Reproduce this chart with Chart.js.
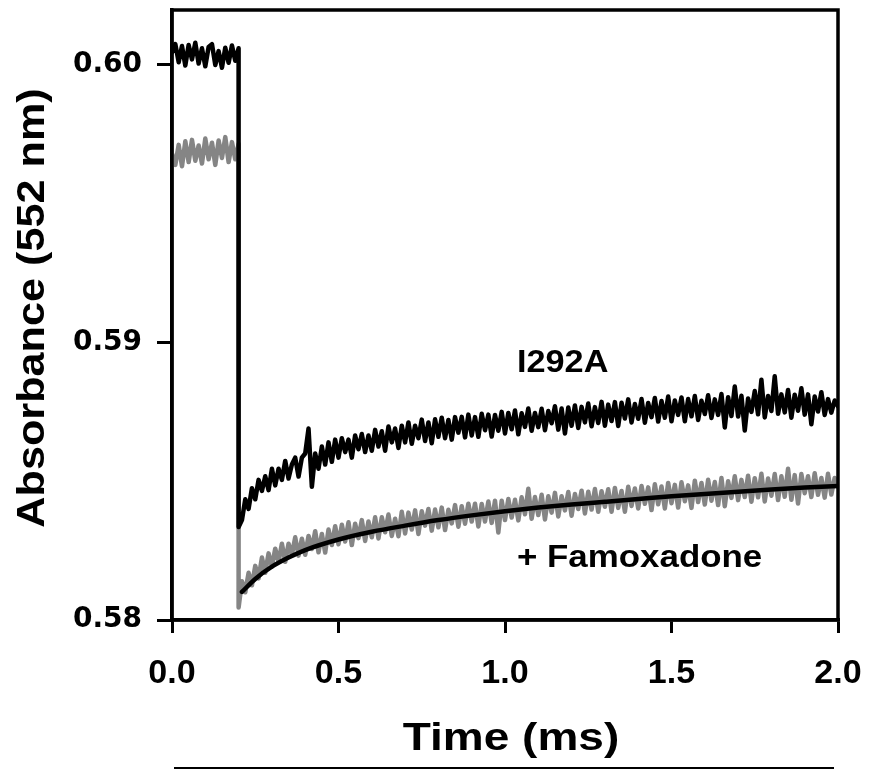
<!DOCTYPE html>
<html><head><meta charset="utf-8">
<script src="https://cdn.jsdelivr.net/npm/chart.js@4.4.1/dist/chart.umd.min.js"></script>
<style>html,body{margin:0;padding:0;background:#fff;}</style>
</head><body>
<canvas id="c" width="871" height="770"></canvas>
<script>
// ---- data ----
const xTicks = [0.0, 0.5, 1.0, 1.5, 2.0];
const yTicks = [0.58, 0.59, 0.60];
const sampleStep = 0.01;   // ms between recorded samples
const flashTime = 0.20;    // ms, time of the flash

// I292A trace (black), before the flash (t = 0 .. 0.20)
const i292aPre = [0.60045,0.60075,0.60010,0.60068,0.59998,0.60072,0.60020,0.60080,0.60005,0.60060,0.59995,0.60065,0.60075,0.60000,0.60050,0.59990,0.60062,0.60008,0.60070,0.60015,0.60060];
// I292A trace after the flash (t = 0.20 .. 2.00)
const i292aPost = [
0.58335,0.58360,0.58435,0.58400,0.58475,0.58435,0.58505,0.58465,0.58518,0.58468,
0.58545,0.58485,0.58545,0.58505,0.58573,0.58510,0.58560,0.58585,0.58517,0.58585,
0.58600,0.58690,0.58480,0.58600,0.58545,0.58625,0.58560,0.58640,0.58570,0.58650,
0.58585,0.58655,0.58605,0.58650,0.58585,0.58665,0.58615,0.58670,0.58605,0.58665,
0.58610,0.58685,0.58625,0.58680,0.58610,0.58697,0.58640,0.58690,0.58620,0.58700,
0.58640,0.58712,0.58635,0.58700,0.58655,0.58722,0.58645,0.58712,0.58637,0.58723,
0.58660,0.58729,0.58655,0.58721,0.58650,0.58731,0.58675,0.58732,0.58658,0.58740,
0.58665,0.58731,0.58660,0.58743,0.58684,0.58740,0.58661,0.58739,0.58682,0.58750,
0.58672,0.58746,0.58687,0.58755,0.58669,0.58745,0.58696,0.58762,0.58682,0.58746,
0.58695,0.58761,0.58684,0.58753,0.58709,0.58770,0.58686,0.58762,0.58672,0.58766,
0.58700,0.58773,0.58692,0.58768,0.58712,0.58780,0.58698,0.58767,0.58710,0.58786,
0.58700,0.58776,0.58717,0.58785,0.58699,0.58783,0.58726,0.58795,0.58712,0.58778,
0.58725,0.58796,0.58711,0.58782,0.58731,0.58800,0.58715,0.58789,0.58729,0.58805,
0.58716,0.58791,0.58739,0.58802,0.58716,0.58796,0.58734,0.58807,0.58721,0.58790,
0.58742,0.58810,0.58728,0.58795,0.58739,0.58814,0.58694,0.58803,0.58735,0.58841,
0.58733,0.58808,0.58683,0.58798,0.58750,0.58825,0.58741,0.58866,0.58730,0.58807,
0.58753,0.58878,0.58743,0.58813,0.58748,0.58829,0.58729,0.58812,0.58754,0.58835,
0.58740,0.58813,0.58705,0.58805,0.58751,0.58821,0.58739,0.58796,0.58747,0.58791,
0.58770];

// + Famoxadone trace (grey), before the flash
const famoxPre = [0.59680,0.59640,0.59712,0.59635,0.59725,0.59650,0.59730,0.59655,0.59710,0.59645,0.59735,0.59660,0.59720,0.59640,0.59728,0.59665,0.59740,0.59650,0.59722,0.59660,0.59715];
// + Famoxadone trace after the flash
const famoxPost = [
0.58045,0.58140,0.58100,0.58170,0.58125,0.58195,0.58150,0.58225,0.58170,0.58240,
0.58192,0.58257,0.58210,0.58275,0.58210,0.58275,0.58235,0.58298,0.58232,0.58293,
0.58235,0.58303,0.58256,0.58320,0.58244,0.58310,0.58243,0.58326,0.58270,0.58338,
0.58273,0.58343,0.58283,0.58352,0.58270,0.58347,0.58295,0.58360,0.58285,0.58355,
0.58298,0.58370,0.58294,0.58370,0.58316,0.58380,0.58303,0.58365,0.58302,0.58390,
0.58312,0.58387,0.58326,0.58395,0.58310,0.58392,0.58340,0.58400,0.58322,0.58398,
0.58334,0.58405,0.58324,0.58397,0.58348,0.58414,0.58336,0.58410,0.58347,0.58419,
0.58355,0.58419,0.58337,0.58418,0.58355,0.58427,0.58350,0.58430,0.58315,0.58430,
0.58360,0.58436,0.58369,0.58433,0.58359,0.58442,0.58381,0.58473,0.58365,0.58443,
0.58378,0.58451,0.58362,0.58446,0.58387,0.58458,0.58373,0.58446,0.58395,0.58461,
0.58376,0.58454,0.58400,0.58466,0.58384,0.58462,0.58398,0.58472,0.58390,0.58464,
0.58408,0.58471,0.58390,0.58476,0.58404,0.58465,0.58390,0.58480,0.58411,0.58474,
0.58402,0.58483,0.58419,0.58478,0.58396,0.58489,0.58417,0.58481,0.58402,0.58494,
0.58421,0.58487,0.58405,0.58496,0.58428,0.58485,0.58404,0.58502,0.58425,0.58494,
0.58416,0.58505,0.58430,0.58497,0.58414,0.58512,0.58410,0.58500,0.58440,0.58518,
0.58432,0.58505,0.58443,0.58520,0.58426,0.58511,0.58442,0.58527,0.58427,0.58510,
0.58448,0.58526,0.58432,0.58518,0.58444,0.58545,0.58433,0.58522,0.58420,0.58526,
0.58457,0.58518,0.58443,0.58529,0.58451,0.58512,0.58441,0.58527,0.58452,0.58512,
0.58480];

// fitted curve through the + Famoxadone trace
const fitTimes  = [0.21,0.25,0.30,0.35,0.40,0.50,0.60,0.70,0.80,0.90,1.00,1.10,1.20,1.30,1.40,1.50,1.60,1.70,1.80,1.90,2.00];
const fitValues = [0.58101,0.58148,0.58192,0.58225,0.58252,0.58290,0.58318,0.58340,0.58360,0.58377,0.58392,0.58405,0.58416,0.58426,0.58436,0.58446,0.58454,0.58462,0.58470,0.58477,0.58483];

// ---- build point lists ----
function trace(pre, post){
  const pts = [];
  pre.forEach((v,i)=>pts.push({x: +(i*sampleStep).toFixed(3), y: v}));
  post.forEach((v,i)=>pts.push({x: +(flashTime + i*sampleStep).toFixed(3), y: v}));
  return pts;
}
const blackPts = trace(i292aPre, i292aPost);
const greyPts = trace(famoxPre, famoxPost);
const fitPts = fitTimes.map((t,i)=>({x:t, y:fitValues[i]}));

const FONT = '"Liberation Sans", Arial, Helvetica, sans-serif';

function drawText(ctx, text, x, y, size, sx, align, rotate){
  ctx.save();
  ctx.translate(x, y);
  if (rotate) ctx.rotate(-Math.PI/2);
  ctx.scale(sx, 1);
  ctx.font = 'bold ' + size + 'px ' + FONT;
  ctx.textAlign = align;
  ctx.textBaseline = 'alphabetic';
  ctx.fillStyle = '#000';
  ctx.fillText(text, 0, 0);
  ctx.restore();
}

const framePlugin = {
  id: 'frame',
  afterDraw(chart){
    const ctx = chart.ctx, a = chart.chartArea;
    ctx.save();
    ctx.strokeStyle = '#000';
    ctx.lineWidth = 3.5;
    ctx.strokeRect(a.left, a.top, a.right - a.left, a.bottom - a.top);
    ctx.lineWidth = 2;
    ctx.beginPath(); ctx.moveTo(174, 768); ctx.lineTo(834, 768); ctx.stroke();
    ctx.restore();
    drawText(ctx, 'I292A', 517, 372, 32, 1.07, 'left', false);
    drawText(ctx, '+ Famoxadone', 517, 567, 32, 1.09, 'left', false);
    drawText(ctx, 'Time (ms)', 511, 750, 39, 1.18, 'center', false);
    drawText(ctx, 'Absorbance (552 nm)', 44, 308, 38, 1.137, 'center', true);
  }
};

new Chart(document.getElementById('c').getContext('2d'), {
  type: 'line',
  data: { datasets: [
    { label: 'I292A', data: blackPts, borderColor: '#000', borderWidth: 4.5, pointRadius: 0, tension: 0, borderJoinStyle: 'round', borderCapStyle: 'round' },
    { label: 'fit', data: fitPts, borderColor: '#000', borderWidth: 4.5, pointRadius: 0, cubicInterpolationMode: 'monotone', borderCapStyle: 'round' },
    { label: '+ Famoxadone', data: greyPts, borderColor: '#858585', borderWidth: 4.5, pointRadius: 0, tension: 0, borderJoinStyle: 'round', borderCapStyle: 'round' }
  ]},
  options: {
    responsive: false, animation: false, devicePixelRatio: 1,
    layout: { padding: { left: 0, right: 33, top: 10, bottom: 0 } },
    plugins: { legend: { display: false }, tooltip: { enabled: false } },
    scales: {
      x: {
        type: 'linear', min: 0, max: 2,
        afterBuildTicks: s => { s.ticks = xTicks.map(v => ({ value: v })); },
        afterFit: s => { s.height = 150; s.paddingLeft = 0; s.paddingRight = 0; },
        grid: { display: true, drawOnChartArea: false, drawTicks: true, tickLength: 13, tickWidth: 3, tickColor: '#000', color: '#000', lineWidth: 3 },
        border: { display: true, color: '#000', width: 3.5 },
        ticks: { color: '#000', padding: 20, maxRotation: 0, autoSkip: false,
                 font: { family: FONT, size: 34, weight: 'bold' },
                 callback: v => Number(v).toFixed(1) }
      },
      y: {
        type: 'linear', min: 0.58, max: 0.60198,
        afterBuildTicks: s => { s.ticks = yTicks.map(v => ({ value: v })); },
        afterFit: s => { s.width = 172; s.paddingTop = 0; s.paddingBottom = 0; },
        grid: { display: true, drawOnChartArea: false, drawTicks: true, tickLength: 15, tickWidth: 3, tickColor: '#000', color: '#000', lineWidth: 3 },
        border: { display: true, color: '#000', width: 3.5 },
        ticks: { color: '#000', padding: 15, autoSkip: false,
                 font: { family: '"DejaVu Sans", ' + FONT, size: 28, weight: 'bold' },
                 callback: v => Number(v).toFixed(2) }
      }
    }
  },
  plugins: [framePlugin]
});
</script>
</body></html>
